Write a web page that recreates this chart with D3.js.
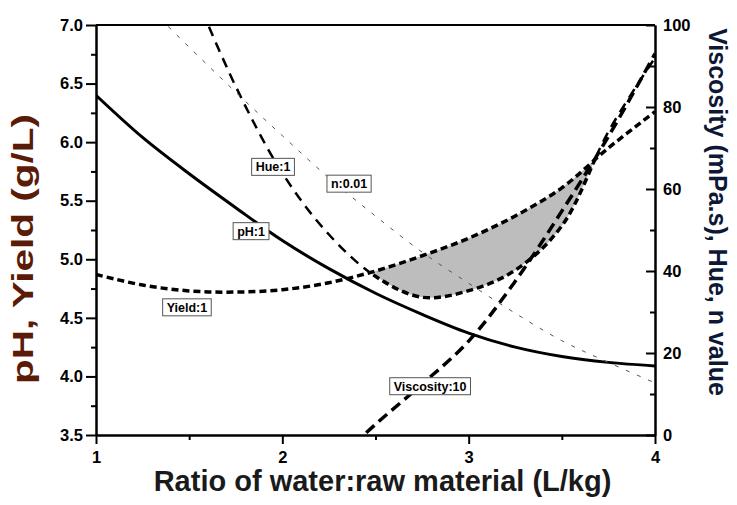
<!DOCTYPE html>
<html>
<head>
<meta charset="utf-8">
<script src="https://cdn.jsdelivr.net/npm/d3@7"></script>
<style>
  body { margin: 0; background: #fff; }
  svg { display: block; }
  text { font-family: "Liberation Sans", Arial, sans-serif; font-weight: bold; }
</style>
</head>
<body>
<svg id="chart" width="737" height="505"></svg>
<script>
// Water:raw-material ratio (L/kg) at which each response was evaluated
const ratio = [1, 1.25, 1.5, 1.75, 2, 2.25, 2.5, 2.75, 3, 3.25, 3.5, 3.75, 4];

// Left-axis responses
const pH      = [6.40, 6.04, 5.73, 5.44, 5.16, 4.92, 4.71, 4.53, 4.37, 4.25, 4.17, 4.12, 4.09];
const yieldGL = [4.87, 4.78, 4.73, 4.72, 4.74, 4.80, 4.90, 5.03, 5.18, 5.37, 5.61, 5.95, 6.26];

// Right-axis responses (Hue x1, viscosity /10, n value /0.01)
const hue       = [null, null, 111, 85, 63.9, 48.9, 38.7, 33.6, 35.2, 40.2, 51.0, 74, 92];
const viscosity = [null, null, null, null, null, -8, 2.6, 12.4, 22.9, 37.5, 54.6, 72.8, 93];
const nValue    = [null, 105.8, 94.6, 83.6, 73.0, 62.7, 53.4, 44.6, 37.0, 29.7, 23.0, 17.7, 12.7];

// Tick values
const xTicks = [1, 2, 3, 4];
const xMinor = [1.5, 2.5, 3.5];
const leftTicks = [3.5, 4.0, 4.5, 5.0, 5.5, 6.0, 6.5, 7.0];
const leftMinor = [3.75, 4.25, 4.75, 5.25, 5.75, 6.25, 6.75];
const rightTicks = [0, 20, 40, 60, 80, 100];
const rightMinor = [10, 30, 50, 70, 90];

// Curve annotations (text, ratio, value, axis)
const notes = [
  { text: "Hue:1",        at: 1.95,  v: 65.4, axis: "R" },
  { text: "n:0.01",       at: 2.358, v: 61.3, axis: "R" },
  { text: "pH:1",         at: 1.832, v: 5.24, axis: "L" },
  { text: "Yield:1",      at: 1.488, v: 4.59, axis: "L" },
  { text: "Viscosity:10", at: 2.793, v: 11.9, axis: "R" }
];

const svg = d3.select("#chart");
const X0 = 96, X1 = 655, Y0 = 25, Y1 = 435;

const x  = d3.scaleLinear().domain([1, 4]).range([X0, X1]);
const yL = d3.scaleLinear().domain([3.5, 7]).range([Y1, Y0]);
const yR = d3.scaleLinear().domain([0, 100]).range([Y1, Y0]);

const defs = svg.append("defs");
defs.append("clipPath").attr("id", "plotClip")
  .append("rect").attr("x", X0).attr("y", Y0).attr("width", X1 - X0).attr("height", Y1 - Y0);

const curve = d3.curveCatmullRom.alpha(0.5);
const pts = (vals, scale) => ratio.map((r, i) => ({ r, v: vals[i], s: scale }));

// Regions above / below the yield curve, used to split the hue curve
const yieldPts = pts(yieldGL, yL);
defs.append("clipPath").attr("id", "belowYield")
  .append("path")
  .attr("d", d3.area().curve(curve).x(d => x(d.r)).y0(Y1 + 20).y1(d => yL(d.v))(yieldPts));
defs.append("clipPath").attr("id", "aboveYield")
  .append("path")
  .attr("d", d3.area().curve(curve).x(d => x(d.r)).y0(Y0 - 20).y1(d => yL(d.v))(yieldPts));

const line = d3.line().curve(curve)
  .defined(d => d.v !== null)
  .x(d => x(d.r)).y(d => d.s(d.v));

const plot = svg.append("g").attr("clip-path", "url(#plotClip)");

// Shaded window: below the yield curve and above the hue curve
const huePts = pts(hue, yR);
plot.append("g").attr("clip-path", "url(#belowYield)")
  .append("path")
  .attr("d", d3.area().curve(curve).defined(d => d.v !== null)
    .x(d => x(d.r)).y0(Y0 - 20).y1(d => yR(d.v))(huePts))
  .attr("fill", "#bdbdbd");

// pH
plot.append("path").attr("d", line(pts(pH, yL)))
  .attr("fill", "none").attr("stroke", "#000").attr("stroke-width", 3);

// Yield
plot.append("path").attr("d", line(yieldPts))
  .attr("fill", "none").attr("stroke", "#000").attr("stroke-width", 3.5)
  .attr("stroke-dasharray", "7,4");

// Hue: long dashes outside the window, short dashes where it bounds the window
plot.append("g").attr("clip-path", "url(#aboveYield)")
  .append("path").attr("d", line(huePts))
  .attr("fill", "none").attr("stroke", "#000").attr("stroke-width", 2.5)
  .attr("stroke-dasharray", "10,7");
plot.append("g").attr("clip-path", "url(#belowYield)")
  .append("path").attr("d", line(huePts))
  .attr("fill", "none").attr("stroke", "#000").attr("stroke-width", 3.5)
  .attr("stroke-dasharray", "7,4");

// Viscosity
plot.append("path").attr("d", line(pts(viscosity, yR)))
  .attr("fill", "none").attr("stroke", "#000").attr("stroke-width", 3.5)
  .attr("stroke-dasharray", "11,6");

// n value
plot.append("path").attr("d", line(pts(nValue, yR)))
  .attr("fill", "none").attr("stroke", "#555").attr("stroke-width", 1)
  .attr("stroke-dasharray", "4,8");

// Axes
function styleAxis(g) {
  g.selectAll("path.domain").attr("stroke", "#000").attr("stroke-width", 2);
  g.selectAll(".tick line").attr("stroke", "#000").attr("stroke-width", 2);
  g.selectAll(".tick text").attr("font-size", 16.5).attr("fill", "#000")
    .style("font-family", "'Liberation Sans', Arial, sans-serif").style("font-weight", "bold");
}

svg.append("g").attr("transform", `translate(0,${Y1})`)
  .call(d3.axisBottom(x).tickValues(xMinor).tickSize(5).tickSizeOuter(0).tickFormat(""))
  .call(styleAxis);
svg.append("g").attr("transform", `translate(0,${Y1})`)
  .call(d3.axisBottom(x).tickValues(xTicks).tickSize(9).tickSizeOuter(0).tickPadding(7).tickFormat(d3.format("d")))
  .call(styleAxis);

svg.append("g").attr("transform", `translate(${X0},0)`)
  .call(d3.axisLeft(yL).tickValues(leftMinor).tickSize(5).tickSizeOuter(0).tickFormat(""))
  .call(styleAxis);
svg.append("g").attr("transform", `translate(${X0},0)`)
  .call(d3.axisLeft(yL).tickValues(leftTicks).tickSize(10).tickSizeOuter(0).tickPadding(3).tickFormat(d3.format(".1f")))
  .call(styleAxis);

svg.append("g").attr("transform", `translate(${X1},0)`)
  .call(d3.axisRight(yR).tickValues(rightMinor).tickSize(-5).tickSizeOuter(0).tickFormat(""))
  .call(styleAxis);
svg.append("g").attr("transform", `translate(${X1},0)`)
  .call(d3.axisRight(yR).tickValues(rightTicks).tickSize(-9).tickSizeOuter(0).tickPadding(8).tickFormat(d3.format("d")))
  .call(styleAxis);

// Top frame
svg.append("line").attr("x1", X0).attr("x2", X1).attr("y1", Y0).attr("y2", Y0)
  .attr("stroke", "#000").attr("stroke-width", 2);

// Axis titles
svg.append("text")
  .attr("transform", `translate(${(X0 + X1) / 2 + 7},491)`)
  .attr("text-anchor", "middle").attr("font-size", 29).attr("fill", "#1a1a1a")
  .text("Ratio of water:raw material (L/kg)");

svg.append("text")
  .attr("transform", `translate(33,249) rotate(-90)`)
  .attr("text-anchor", "middle").attr("font-size", 29).attr("fill", "#5a1c08")
  .attr("textLength", 270).attr("lengthAdjust", "spacingAndGlyphs")
  .text("pH, Yield (g/L)");

svg.append("text")
  .attr("transform", `translate(709,212) rotate(90)`)
  .attr("text-anchor", "middle").attr("font-size", 25).attr("fill", "#0d1836")
  .text("Viscosity (mPa.s), Hue, n value");

// Curve annotations
const noteG = svg.append("g");
notes.forEach(n => {
  const cx = x(n.at), cy = (n.axis === "L" ? yL : yR)(n.v);
  const g = noteG.append("g").attr("transform", `translate(${cx},${cy})`);
  const t = g.append("text").attr("text-anchor", "middle").attr("dy", "0.36em")
    .attr("font-size", 12.5).attr("fill", "#000").text(n.text);
  const b = t.node().getBBox();
  g.insert("rect", "text")
    .attr("x", b.x - 4).attr("y", -8.5).attr("width", b.width + 8).attr("height", 17)
    .attr("fill", "#fff").attr("stroke", "#555").attr("stroke-width", 1);
});
</script>
</body>
</html>
